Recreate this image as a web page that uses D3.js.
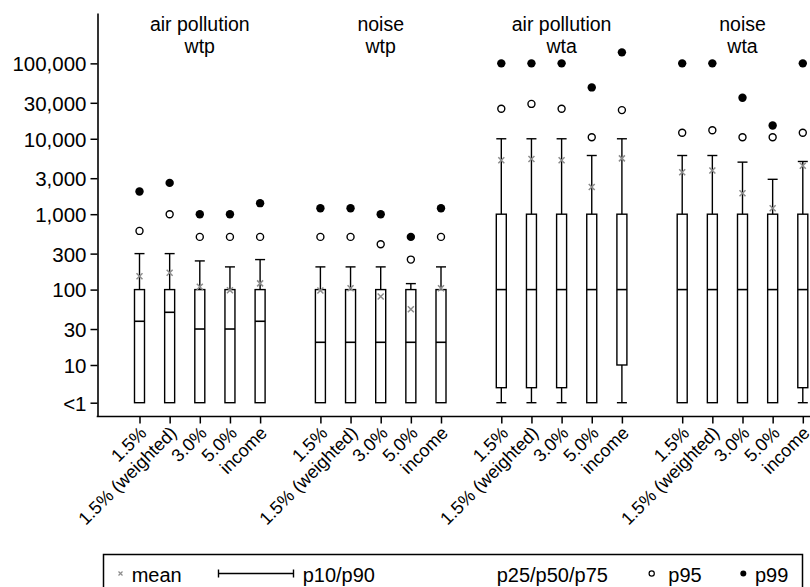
<!DOCTYPE html>
<html>
<head>
<meta charset="utf-8">
<script src="https://cdn.jsdelivr.net/npm/d3@7"></script>
<style>
  body { margin: 0; background: #fff; }
  text { font-family: "Liberation Sans", Arial, Helvetica, sans-serif; fill: #000; }
</style>
</head>
<body>
<div id="chart"></div>
<script>
// group titles (two lines each) and the five variants inside every group
const groupTitles = [["air pollution", "wtp"], ["noise", "wtp"], ["air pollution", "wta"], ["noise", "wta"]];
const variants = ["1.5%", "1.5% (weighted)", "3.0%", "5.0%", "income"];

// percentiles per box, 0 means "<1"
const p10 = [0, 0, 0, 0, 0,  0, 0, 0, 0, 0,  0, 0, 0, 0, 0,  0, 0, 0, 0, 0];
const p25 = [0, 0, 0, 0, 0,  0, 0, 0, 0, 0,  5, 5, 5, 0, 10,  0, 0, 0, 0, 5];
const p50 = [38, 50, 30, 30, 38,  20, 20, 20, 20, 20,  100, 100, 100, 100, 100,  100, 100, 100, 100, 100];
const p75 = [100, 100, 100, 100, 100,  100, 100, 100, 100, 100,  1000, 1000, 1000, 1000, 1000,  1000, 1000, 1000, 1000, 1000];
const p90 = [300, 300, 240, 200, 250,  200, 200, 200, 120, 200,  10000, 10000, 10000, 6000, 10000,  6000, 6000, 4900, 2900, 5000];
const p95 = [600, 1000, 500, 500, 500,  500, 500, 400, 250, 500,  25000, 29000, 25000, 10500, 24000,  12000, 13000, 10500, 10500, 12000];
const p99 = [2000, 2600, 1000, 1000, 1400,  1200, 1200, 1000, 500, 1200,  100000, 100000, 100000, 48000, 140000,  100000, 100000, 35000, 15000, 100000];
const means = [150, 167, 109, 98, 121,  97, 104, 81, 55, 104,  5200, 5400, 5200, 2300, 5500,  3600, 3800, 1900, 1200, 4400];

const yTicks = [0, 10, 30, 100, 300, 1000, 3000, 10000, 30000, 100000];

const W = 810, H = 587;
const FS = "20.5px";   // y ticks
const FST = "19.5px";  // group titles
const FSL = "20px";    // legend
const FSX = "18px";    // rotated x labels
const LT1 = Math.sqrt(10); // where "<1" sits on the log axis

const svg = d3.select("#chart").append("svg").attr("width", W).attr("height", H);

const y = d3.scaleLog().domain([Math.pow(10, 0.317), Math.pow(10, 5.668)]).range([416.5, 13]);
const x = d3.scaleLinear().domain([0, 22]).range([139.5, 802.8]);
const yPos = (v) => y(v < 1 ? LT1 : v);

// rows: one per box, slot index leaves an empty slot between groups
const rows = p50.map((d, i) => ({
  slot: Math.floor(i / 5) * 6 + (i % 5),
  label: variants[i % 5],
  p10: p10[i], p25: p25[i], p50: p50[i], p75: p75[i], p90: p90[i],
  p95: p95[i], p99: p99[i], mean: means[i]
}));

// y axis
const yAxis = svg.append("g")
  .attr("transform", "translate(97.5,0)")
  .call(d3.axisLeft(y)
    .tickValues(yTicks.map((v) => (v < 1 ? LT1 : v)))
    .tickFormat((v) => (v === LT1 ? "<1" : d3.format(",")(v)))
    .tickSize(7).tickSizeOuter(0).tickPadding(4));
yAxis.select(".domain").attr("stroke-width", 1.6);
yAxis.selectAll(".tick line").attr("stroke-width", 1.5);
yAxis.selectAll(".tick text").style("font-size", FS).attr("dy", "0.36em");

// x axis
const xAxis = svg.append("g")
  .attr("transform", "translate(0,416.5)")
  .call(d3.axisBottom(x)
    .tickValues(rows.map((d) => d.slot))
    .tickFormat((s) => rows.find((d) => d.slot === s).label)
    .tickSize(7).tickSizeOuter(0));
xAxis.select(".domain").remove();
xAxis.append("line").attr("x1", 96.7).attr("x2", W).attr("stroke", "#000").attr("stroke-width", 1.6);
xAxis.selectAll(".tick line").attr("stroke-width", 1.5);
xAxis.selectAll(".tick text")
  .style("font-size", FSX)
  .attr("text-anchor", "end")
  .attr("x", 0).attr("y", 0).attr("dy", "0.36em")
  .attr("transform", "translate(3,13) rotate(-45)");

// group titles
groupTitles.forEach((t, g) => {
  t.forEach((line, j) => {
    svg.append("text")
      .attr("x", x(g * 6 + 2))
      .attr("y", 30.5 + j * 22)
      .attr("text-anchor", "middle")
      .style("font-size", FST)
      .text(line);
  });
});

const bw = 10;
const box = svg.append("g").attr("stroke", "#000").attr("stroke-width", 1.4);

// whiskers
box.selectAll("line.up").data(rows).join("line")
  .attr("x1", (d) => x(d.slot)).attr("x2", (d) => x(d.slot))
  .attr("y1", (d) => yPos(d.p75)).attr("y2", (d) => yPos(d.p90));
box.selectAll("line.capup").data(rows).join("line")
  .attr("x1", (d) => x(d.slot) - bw / 2).attr("x2", (d) => x(d.slot) + bw / 2)
  .attr("y1", (d) => yPos(d.p90)).attr("y2", (d) => yPos(d.p90));
const low = rows.filter((d) => yPos(d.p10) !== yPos(d.p25));
box.selectAll("line.down").data(low).join("line")
  .attr("x1", (d) => x(d.slot)).attr("x2", (d) => x(d.slot))
  .attr("y1", (d) => yPos(d.p25)).attr("y2", (d) => yPos(d.p10));
box.selectAll("line.capdown").data(low).join("line")
  .attr("x1", (d) => x(d.slot) - bw / 2).attr("x2", (d) => x(d.slot) + bw / 2)
  .attr("y1", (d) => yPos(d.p10)).attr("y2", (d) => yPos(d.p10));

// boxes and medians
svg.selectAll("rect.box").data(rows).join("rect")
  .attr("x", (d) => x(d.slot) - bw / 2)
  .attr("y", (d) => yPos(d.p75))
  .attr("width", bw)
  .attr("height", (d) => yPos(d.p25) - yPos(d.p75))
  .attr("fill", "#fff").attr("stroke", "#000").attr("stroke-width", 1.4);
svg.selectAll("line.med").data(rows).join("line")
  .attr("x1", (d) => x(d.slot) - bw / 2).attr("x2", (d) => x(d.slot) + bw / 2)
  .attr("y1", (d) => yPos(d.p50)).attr("y2", (d) => yPos(d.p50))
  .attr("stroke", "#000").attr("stroke-width", 1.6);

// means
const cross = "M-3,-3L3,3M-3,3L3,-3";
svg.selectAll("path.mean").data(rows).join("path")
  .attr("d", cross)
  .attr("transform", (d) => `translate(${x(d.slot)},${yPos(d.mean)})`)
  .attr("stroke", "#8c8c8c").attr("stroke-width", 1.5).attr("fill", "none");

// p95 / p99
svg.selectAll("circle.p95").data(rows).join("circle")
  .attr("cx", (d) => x(d.slot)).attr("cy", (d) => yPos(d.p95)).attr("r", 3.5)
  .attr("fill", "#fff").attr("stroke", "#000").attr("stroke-width", 1.4);
svg.selectAll("circle.p99").data(rows).join("circle")
  .attr("cx", (d) => x(d.slot)).attr("cy", (d) => yPos(d.p99)).attr("r", 4.2)
  .attr("fill", "#000");

// legend
const lg = svg.append("g");
lg.append("rect").attr("x", 103.5).attr("y", 554.5).attr("width", 699).attr("height", 60)
  .attr("fill", "none").attr("stroke", "#000").attr("stroke-width", 1.5);
const ly = 573.5;
lg.append("path").attr("d", "M-2,-2L2,2M-2,2L2,-2")
  .attr("transform", `translate(120.5,${ly})`)
  .attr("stroke", "#8c8c8c").attr("stroke-width", 1.2);
lg.append("path").attr("d", `M218.5,${ly - 4}V${ly + 4}M218.5,${ly}H293.5M293.5,${ly - 4}V${ly + 4}`)
  .attr("stroke", "#000").attr("stroke-width", 1.4).attr("fill", "none");
lg.append("circle").attr("cx", 651.7).attr("cy", ly).attr("r", 2.6)
  .attr("fill", "#fff").attr("stroke", "#000").attr("stroke-width", 1.2);
lg.append("circle").attr("cx", 743.3).attr("cy", ly).attr("r", 3)
  .attr("fill", "#000");
const legendLabels = ["mean", "p10/p90", "p25/p50/p75", "p95", "p99"];
const legendX = [131.7, 302.7, 496.7, 668.3, 755];
lg.selectAll("text").data(legendLabels).join("text")
  .attr("x", (d, i) => legendX[i]).attr("y", 581.5)
  .style("font-size", FSL)
  .text((d) => d);
</script>
</body>
</html>
